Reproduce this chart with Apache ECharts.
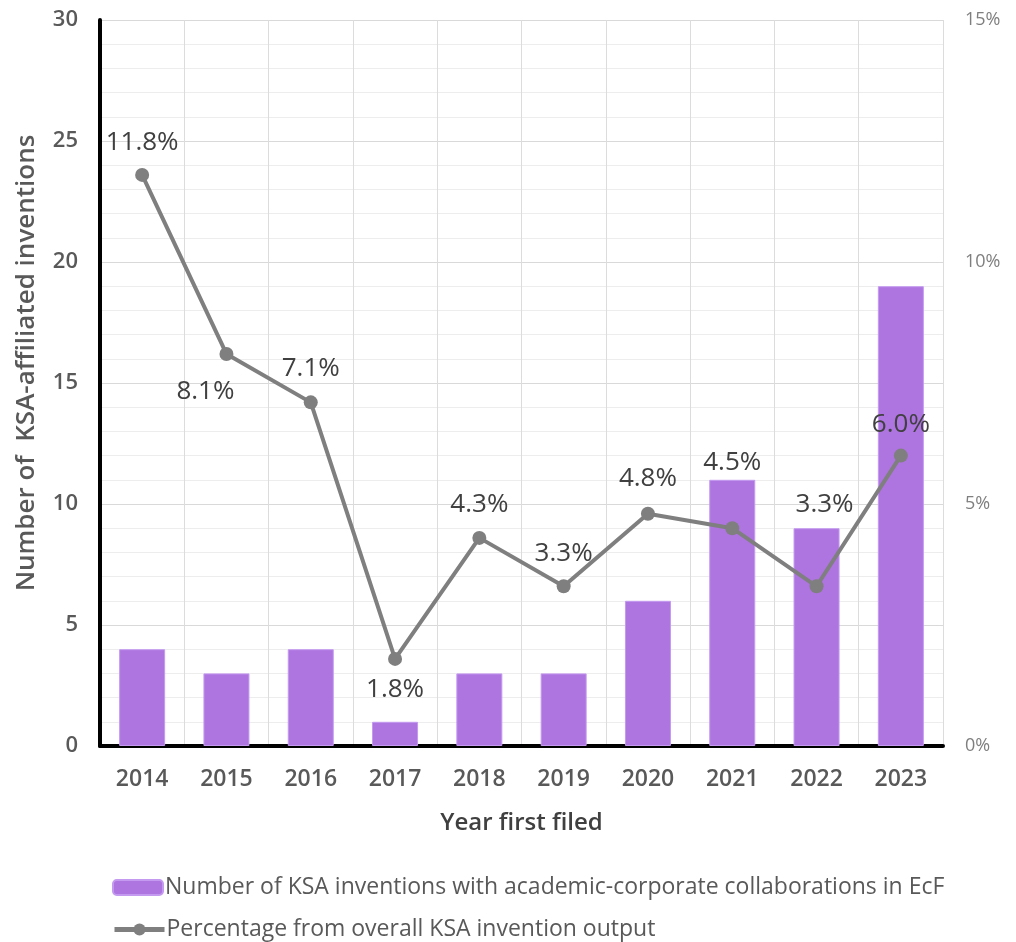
<!DOCTYPE html>
<html>
<head>
<meta charset="utf-8">
<script src="https://cdn.jsdelivr.net/npm/echarts@6/dist/echarts.min.js"></script>
<style>html,body{margin:0;padding:0;background:#fff;overflow:hidden;}#c{width:1016px;height:942px;}</style>
</head>
<body>
<div id="c"></div>
<script>
const years = ['2014','2015','2016','2017','2018','2019','2020','2021','2022','2023'];
const inventionCounts = [4, 3, 4, 1, 3, 3, 6, 11, 9, 19];
const percentShares = [11.8, 8.1, 7.1, 1.8, 4.3, 3.3, 4.8, 4.5, 3.3, 6.0];
const leftTicks = [0, 5, 10, 15, 20, 25, 30];
const rightTicks = ['0%', '5%', '10%', '15%'];
const barName = 'Number of KSA inventions with academic-corporate collaborations in EcF';
const lineName = 'Percentage from overall KSA invention output';

// label placement (layout only)
const labelLayout = [
  {position:'top', distance:12},
  {position:'bottom', distance:18, offset:[-21,0]},
  {position:'top', distance:14},
  {position:'bottom', distance:11},
  {position:'top', distance:13},
  {position:'top', distance:13},
  {position:'top', distance:15},
  {position:'top', distance:46},
  {position:'top', distance:62, offset:[8,0]},
  {position:'top', distance:11}
];

const FONT = '"Open Sans", "Noto Sans", sans-serif';
const legendText = {fontSize: 23, color: '#595959', fontFamily: FONT, padding:[0,0,0,-3]};
const chart = echarts.init(document.getElementById('c'));
chart.setOption({
  animation: false,
  textStyle: {fontFamily: FONT},
  grid: {left: 100, right: 73, top: 20, bottom: 196, containLabel: false},
  legend: [{
    left: 112, top: 876, itemWidth: 50, itemHeight: 15, padding: 0,
    textStyle: legendText, data: [barName]
  }, {
    left: 112, top: 918, itemWidth: 50, itemHeight: 15, padding: 0,
    lineStyle: {width: 5},
    textStyle: legendText, data: [lineName]
  }],
  xAxis: {
    type: 'category', data: years,
    name: 'Year first filed', nameLocation: 'middle', nameGap: 65,
    nameTextStyle: {fontSize: 24, fontWeight: 600, color: '#404040'},
    axisLine: {show: true, lineStyle: {color: '#000', width: 4}},
    axisTick: {show: false},
    axisLabel: {fontSize: 23, fontWeight: 600, color: '#595959', margin: 22},
    splitLine: {show: true, lineStyle: {color: '#dcdcdc', width: 1}}
  },
  yAxis: [{
    type: 'value', min: 0, max: 30, interval: 5,
    name: 'Number of  KSA-affiliated inventions', nameLocation: 'middle', nameGap: 60,
    nameTextStyle: {fontSize: 26, fontWeight: 600, color: '#595959', padding:[0,0,0,40]},
    axisLine: {show: true, lineStyle: {color: '#000', width: 4}},
    axisTick: {show: false},
    axisLabel: {fontSize: 22, fontWeight: 600, color: '#595959', margin: 22,
      formatter: v => leftTicks.includes(v) ? String(v) : ''},
    splitLine: {show: true, lineStyle: {color: '#d9d9d9', width: 1}},
    minorTick: {show: false, splitNumber: 5},
    minorSplitLine: {show: true, lineStyle: {color: '#ededed', width: 1}}
  }, {
    type: 'value', min: 0, max: 15, interval: 5,
    axisLine: {show: false}, axisTick: {show: false},
    axisLabel: {fontSize: 18, color: '#7f7f7f', margin: 22,
      formatter: v => rightTicks[v / 5]},
    splitLine: {show: false}
  }],
  series: [{
    name: barName, type: 'bar', data: inventionCounts, barWidth: 46,
    itemStyle: {color: '#ae74e0', borderColor: '#c49af0', borderWidth: 1},
    z: 2
  }, {
    name: lineName, type: 'line', yAxisIndex: 1,
    data: percentShares.map((v, i) => ({value: v, label: labelLayout[i]})),
    symbol: 'circle', symbolSize: 14,
    lineStyle: {color: '#7f7f7f', width: 4},
    itemStyle: {color: '#7f7f7f'},
    label: {show: true, fontSize: 26, color: '#404040', formatter: p => p.value.toFixed(1) + '%'},
    z: 3
  }]
});
</script>
</body>
</html>
